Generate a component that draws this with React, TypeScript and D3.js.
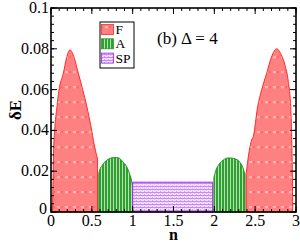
import React from "react";
import * as d3 from "d3";

type Pt = [number, number];

const xTicks = [0, 0.5, 1, 1.5, 2, 2.5, 3];
const xTickLabels = ["0", "0.5", "1", "1.5", "2", "2.5", "3"];
const yTicks = [0, 0.02, 0.04, 0.06, 0.08, 0.1];
const yTickLabels = ["0", "0.02", "0.04", "0.06", "0.08", "0.1"];

const fLeft: Pt[] = [
  [0.018, 0], [0.025, 0.015], [0.032, 0.03], [0.045, 0.04], [0.073, 0.0516],
  [0.098, 0.0598], [0.151, 0.068], [0.19, 0.0755], [0.233, 0.0795], [0.27, 0.0772],
  [0.335, 0.068], [0.388, 0.06], [0.437, 0.052], [0.498, 0.04], [0.52, 0.035],
  [0.545, 0.03], [0.57, 0.026],
];
const aLeft: Pt[] = [
  [0.585, 0.019], [0.6, 0.021], [0.63, 0.023], [0.67, 0.025], [0.72, 0.0262],
  [0.77, 0.0267], [0.83, 0.0265], [0.88, 0.0245], [0.927, 0.0222], [0.96, 0.019],
  [0.98, 0.0165], [1.0, 0.0125],
];
const spBlock: Pt[] = [[1.0, 0.0146], [1.98, 0.0146]];
const aRight: Pt[] = [
  [1.995, 0.017], [2.02, 0.0205], [2.06, 0.0235], [2.11, 0.0255], [2.17, 0.0265],
  [2.22, 0.0264], [2.26, 0.026], [2.3, 0.025], [2.335, 0.023], [2.36, 0.0205],
  [2.375, 0.0185],
];
const fRight: Pt[] = [
  [2.39, 0.019], [2.4, 0.022], [2.416, 0.027], [2.457, 0.0353], [2.477, 0.037],
  [2.53, 0.0516], [2.58, 0.06], [2.641, 0.068], [2.7, 0.076], [2.763, 0.08],
  [2.82, 0.077], [2.865, 0.072], [2.906, 0.0639], [2.935, 0.0516], [2.947, 0.037],
  [2.955, 0.019], [2.96, 0],
];
const legendLabels = ["F", "A", "SP"];

const L = 51, R = 296, T = 8, B = 212;
const FONT = "'Liberation Serif', 'DejaVu Serif', serif";

export default function App() {
  const x = d3.scaleLinear().domain([0, 3]).range([L, R]);
  const y = d3.scaleLinear().domain([0, 0.1]).range([B, T]);
  const area = d3.area<Pt>()
    .x((d) => x(d[0]))
    .y0(y(0))
    .y1((d) => y(d[1]))
    .curve(d3.curveMonotoneX);
  const areaLin = d3.area<Pt>().x((d) => x(d[0])).y0(y(0)).y1((d) => y(d[1]));

  const xMinor = d3.range(0, 3.0001, 0.1);
  const yMinor = d3.range(0, 0.10001, 0.004);

  const redFill = "url(#patF)";
  const greenFill = "url(#patA)";
  const purpleFill = "url(#patSP)";
  const redStroke = "#ff2a2a";
  const greenStroke = "#1f9a1f";
  const purpleStroke = "#a020f0";

  const legendFills = [redFill, greenFill, purpleFill];
  const legendStrokes = [redStroke, greenStroke, purpleStroke];

  return (
    <div style={{ position: "absolute", left: 0, top: 0, width: 300, height: 245, fontFamily: FONT }}>
      <svg width={300} height={245} style={{ display: "block", background: "#fff", fontFamily: FONT }}>
        <defs>
          <pattern id="patF" patternUnits="userSpaceOnUse" x={0} y={T + 4.3 - 1} width={8} height={15}>
            <rect width={8} height={15} fill="#ff8080" />
            <rect x={1} y={0.3} width={3} height={1.1} fill="#ffffff" opacity={0.85} />
            <rect x={5.5} y={0.3} width={1} height={1.1} fill="#ff2020" />
          </pattern>
          <pattern id="patA" patternUnits="userSpaceOnUse" x={0} y={0} width={3} height={10}>
            <rect width={3} height={10} fill="#2f9f2f" />
            <rect x={2} width={1} height={10} fill="#b4e2b4" />
          </pattern>
          <pattern id="patSP" patternUnits="userSpaceOnUse" x={0} y={0} width={4} height={3}>
            <rect width={4} height={3} fill="#f3e2fc" />
            <rect width={4} height={1} fill="#c88af2" />
            <rect x={0} y={2} width={1} height={1} fill="#d6a4f6" />
            <rect x={2} y={1} width={1} height={1} fill="#e2c0f8" />
          </pattern>
        </defs>

        {/* regions */}
        <path d={area(fLeft) ?? ""} fill={redFill} stroke={redStroke} strokeWidth={1} />
        <path d={area(aLeft) ?? ""} fill={greenFill} stroke={greenStroke} strokeWidth={1} />
        <path d={areaLin(spBlock) ?? ""} fill={purpleFill} stroke={purpleStroke} strokeWidth={1} />
        <path d={area(aRight) ?? ""} fill={greenFill} stroke={greenStroke} strokeWidth={1} />
        <path d={area(fRight) ?? ""} fill={redFill} stroke={redStroke} strokeWidth={1} />

        {/* ticks */}
        <g stroke="#000" strokeWidth={1}>
          {xMinor.map((v, i) => (
            <g key={"xm" + i}>
              <line x1={x(v)} x2={x(v)} y1={B} y2={B - 3} />
              <line x1={x(v)} x2={x(v)} y1={T} y2={T + 3} />
            </g>
          ))}
          {xTicks.map((v, i) => (
            <g key={"xM" + i}>
              <line x1={x(v)} x2={x(v)} y1={B} y2={B - 6} />
              <line x1={x(v)} x2={x(v)} y1={T} y2={T + 6} />
            </g>
          ))}
          {yMinor.map((v, i) => (
            <g key={"ym" + i}>
              <line x1={L} x2={L + 3} y1={y(v)} y2={y(v)} />
              <line x1={R} x2={R - 3} y1={y(v)} y2={y(v)} />
            </g>
          ))}
          {yTicks.map((v, i) => (
            <g key={"yM" + i}>
              <line x1={L} x2={L + 6} y1={y(v)} y2={y(v)} />
              <line x1={R} x2={R - 6} y1={y(v)} y2={y(v)} />
            </g>
          ))}
        </g>

        {/* frame */}
        <rect x={L} y={T} width={R - L} height={B - T} fill="none" stroke="#000" strokeWidth={1.6} />

        {/* tick labels */}
        <g fontSize={16} fill="#000">
          {xTicks.map((v, i) => (
            <text key={"xl" + i} x={x(v)} y={B + 13.5} textAnchor="middle">
              {xTickLabels[i]}
            </text>
          ))}
          {yTicks.map((v, i) => (
            <text key={"yl" + i} x={i === 0 ? L - 4 : L - 2} y={y(v) + (i === 0 ? 2 : 5)} textAnchor="end">
              {yTickLabels[i]}
            </text>
          ))}
        </g>

        {/* axis labels */}
        <text x={x(1.5)} y={240} textAnchor="middle" fontSize={16} fontWeight="bold">
          n
        </text>
        <text
          transform={`translate(21, ${(T + B) / 2}) rotate(-90)`}
          textAnchor="middle"
          fontSize={17}
          fontWeight="bold"
        >
          δE
        </text>

        {/* title */}
        <text x={157} y={44} fontSize={17}>
          (b) Δ = 4
        </text>

        {/* legend */}
        <rect x={100} y={22} width={34} height={46} fill="#fff" stroke="#000" strokeWidth={1} />
        {legendLabels.map((lab, i) => (
          <g key={"lg" + i}>
            <rect
              x={101.5}
              y={24.5 + i * 14.3}
              width={12}
              height={10}
              fill={legendFills[i]}
              stroke={legendStrokes[i]}
              strokeWidth={0.8}
            />
            <text x={115.5} y={34 + i * 14.3} fontSize={13.5}>
              {lab}
            </text>
          </g>
        ))}
      </svg>
    </div>
  );
}
